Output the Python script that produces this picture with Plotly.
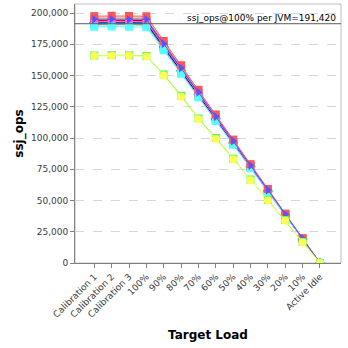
import plotly.graph_objects as go

categories = ["Calibration 1", "Calibration 2", "Calibration 3", "100%", "90%", "80%", "70%",
              "60%", "50%", "40%", "30%", "20%", "10%", "Active Idle"]

s_red = [197500, 197800, 197600, 197400, 177600, 158200, 138600, 118800, 98700, 79100, 59300, 39500, 19800, 0]
s_blue = [195000, 195200, 194800, 195000, 175400, 156000, 136700, 117100, 97600, 78000, 58500, 39000, 19500, 0]
s_green = [166000, 166300, 166200, 165600, 150800, 133800, 115600, 100000, 83400, 66800, 50400, 34400, 16900, 0]
s_yellow = [165800, 166100, 166000, 165300, 150000, 133000, 115000, 99300, 83000, 66200, 50100, 33900, 16500, 0]
s_magenta = [193000, 193500, 193200, 193100, 174000, 154800, 135300, 116000, 96600, 77300, 58000, 38600, 19300, 0]
s_cyan = [189000, 189200, 189000, 188600, 170200, 151400, 132500, 113600, 94600, 75800, 56800, 37900, 18900, 0]
s_pink = [196500, 196800, 196700, 196400, 176600, 157200, 137600, 118000, 98200, 78600, 59000, 39300, 19600, 0]
s_gray = [190500, 190800, 190600, 190200, 171200, 152400, 133300, 114300, 95300, 76200, 57200, 38100, 19100, 0]
s_darkred = [194200, 194000, 194300, 194000, 174600, 155300, 135800, 116400, 97000, 77600, 58200, 38800, 19400, 0]
s_darkblue = [192000, 192300, 192100, 191800, 172800, 153600, 134400, 115200, 96000, 76800, 57600, 38400, 19200, 0]
s_darkgreen = [191000, 191400, 191200, 191000, 171900, 152900, 133800, 114700, 95600, 76400, 57300, 38200, 19100, 0]
s_darkyellow = [195800, 196000, 195900, 195700, 176000, 156600, 137000, 117400, 97900, 78300, 58700, 39100, 19600, 0]
s_darkmagenta = [193800, 194100, 193900, 193600, 174200, 155000, 135500, 116200, 96800, 77500, 58100, 38700, 19400, 0]
s_darkcyan = [192500, 192800, 192600, 192300, 173100, 153900, 134600, 115400, 96200, 77000, 57700, 38500, 19200, 0]

ref_value = 191420
ref_label = "ssj_ops@100% per JVM=191,420"

y_ticks = [0, 25000, 50000, 75000, 100000, 125000, 150000, 175000, 200000]

series = [
    (s_darkcyan, "rgb(0,192,192)", "diamond"),
    (s_darkmagenta, "rgb(192,0,192)", "triangle-up"),
    (s_darkyellow, "rgb(192,192,0)", "circle"),
    (s_darkgreen, "rgb(0,192,0)", "square"),
    (s_darkblue, "rgb(0,0,192)", "triangle-left"),
    (s_darkred, "rgb(192,0,0)", "square"),
    (s_gray, "rgb(160,160,160)", "triangle-right"),
    (s_magenta, "rgb(255,85,255)", "square"),
    (s_cyan, "rgb(85,255,255)", "square"),
    (s_pink, "rgb(255,175,175)", "circle"),
    (s_red, "rgb(255,85,85)", "square"),
    (s_blue, "rgb(85,85,255)", "triangle-right"),
    (s_green, "rgb(85,255,85)", "square"),
    (s_yellow, "rgb(255,255,85)", "circle"),
]

fig = go.Figure()
xs = list(range(len(categories)))
for vals, col, sym in series:
    fig.add_trace(go.Scatter(
        x=xs, y=vals, mode="lines+markers",
        line=dict(color=col, width=1),
        marker=dict(color=col, symbol=sym, size=8),
        showlegend=False, hoverinfo="skip"))

fig.add_shape(type="line", xref="paper", x0=0, x1=1, yref="y", y0=ref_value, y1=ref_value,
              line=dict(color="rgb(90,90,90)", width=1))
fig.add_annotation(xref="paper", x=0.99, yref="y", y=ref_value, text=ref_label,
                   showarrow=False, xanchor="right", yanchor="bottom", yshift=-1,
                   font=dict(family="DejaVu Sans", size=9, color="black"))

fig.update_layout(
    template="none",
    width=348, height=348,
    margin=dict(l=75, r=7, t=4, b=85),
    paper_bgcolor="white", plot_bgcolor="white",
    font=dict(family="DejaVu Sans", size=9, color="rgb(60,60,60)"),
    xaxis=dict(
        range=[-1.11, 14.21], tickmode="array", tickvals=xs, ticktext=categories,
        tickangle=-45, ticks="outside", ticklen=4, tickcolor="rgb(128,128,128)",
        showgrid=False, gridcolor="white", zeroline=False, showline=True,
        linecolor="rgb(128,128,128)", mirror=False,
        title=dict(text="<b>Target Load</b>", font=dict(family="DejaVu Sans", size=12, color="black"),
                   standoff=12),
        tickfont=dict(size=9, color="rgb(60,60,60)"),
    ),
    yaxis=dict(
        range=[0, 207200], tickmode="array", tickvals=y_ticks,
        ticktext=[f"{v:,}" for v in y_ticks],
        ticks="outside", ticklen=4, tickcolor="rgb(128,128,128)",
        showgrid=True, gridcolor="rgb(215,215,215)", griddash="dash", gridwidth=1,
        zeroline=False, showline=True, linecolor="rgb(128,128,128)",
        title=dict(text="<b>ssj_ops</b>", font=dict(family="DejaVu Sans", size=12, color="black"),
                   standoff=4),
        tickfont=dict(size=9, color="rgb(60,60,60)"),
    ),
)
fig.add_shape(type="rect", xref="paper", yref="paper", x0=0, x1=1, y0=0, y1=1,
              line=dict(color="rgb(190,190,190)", width=1), layer="below")

fig.write_html("out.html")
